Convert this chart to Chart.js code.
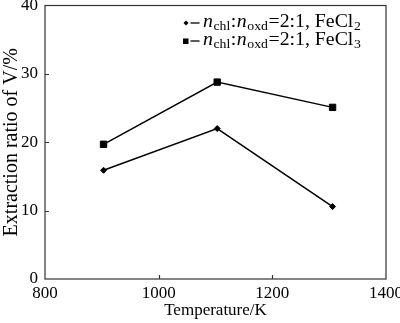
<!DOCTYPE html>
<html>
<head>
<meta charset="utf-8">
<script src="https://cdn.jsdelivr.net/npm/chart.js@4.4.0/dist/chart.umd.min.js"></script>
<style>
  html, body { margin: 0; padding: 0; background: #fff; }
  #wrap { width: 400px; height: 323px; }
</style>
</head>
<body>
<div id="wrap"><canvas id="chart" width="400" height="323"></canvas></div>
<script>
// Extraction ratio of V against roasting temperature
const temperatures = [903, 1103, 1306];
const feCl2Ratio = [15.9, 22.0, 10.6];
const feCl3Ratio = [19.7, 28.8, 25.1];
const xTicks = [800, 1000, 1200, 1400];
const yTicks = [0, 10, 20, 30, 40];
const saltSubscripts = ['2', '3'];

const serif = "'Liberation Serif', 'Times New Roman', serif";

function toPoints(ys) {
    return temperatures.map((t, i) => ({ x: t, y: ys[i] }));
}

// Frame around the plot and short inward ticks
const framePlugin = {
    id: 'frame',
    afterDatasetsDraw(chart) {
        const { ctx, chartArea: a, scales } = chart;
        ctx.save();
        ctx.strokeStyle = '#333';
        ctx.lineWidth = 1.2;
        ctx.strokeRect(a.left, a.top, a.right - a.left, a.bottom - a.top);
        ctx.beginPath();
        xTicks.slice(1, -1).forEach(v => {
            const x = Math.round(scales.x.getPixelForValue(v)) + 0.5;
            ctx.moveTo(x, a.bottom);
            ctx.lineTo(x, a.bottom - 4);
        });
        yTicks.slice(1, -1).forEach(v => {
            const y = Math.round(scales.y.getPixelForValue(v)) + 0.5;
            ctx.moveTo(a.left, y);
            ctx.lineTo(a.left + 4, y);
        });
        ctx.stroke();
        ctx.restore();
    }
};

// Legend with italic n and subscripts
const legendPlugin = {
    id: 'subLegend',
    afterDraw(chart) {
        const { ctx } = chart;
        const main = '18px ' + serif;
        const italic = 'italic 18px ' + serif;
        const sub = '12.5px ' + serif;
        const stretch = 1.1;
        const rows = [
            { y: 27, style: 'diamond' },
            { y: 45, style: 'square' }
        ];
        ctx.save();
        ctx.fillStyle = '#000';
        ctx.strokeStyle = '#000';
        ctx.textBaseline = 'alphabetic';
        rows.forEach((row, i) => {
            const my = row.y - 4;
            ctx.beginPath();
            if (row.style === 'diamond') {
                ctx.moveTo(186, my - 2.5);
                ctx.lineTo(188.5, my);
                ctx.lineTo(186, my + 2.5);
                ctx.lineTo(183.5, my);
                ctx.closePath();
                ctx.fill();
            } else {
                ctx.fillRect(183, my - 2.5, 5.5, 5.5);
            }
            ctx.lineWidth = 1.3;
            ctx.beginPath();
            ctx.moveTo(190.5, my);
            ctx.lineTo(199.5, my);
            ctx.stroke();

            const parts = [
                { t: 'n', f: italic, dy: 0 },
                { t: 'chl', f: sub, dy: 3 },
                { t: ':', f: main, dy: 0 },
                { t: 'n', f: italic, dy: 0 },
                { t: 'oxd', f: sub, dy: 3 },
                { t: '=2:1, FeCl', f: main, dy: 0 },
                { t: saltSubscripts[i], f: sub, dy: 3 }
            ];
            ctx.save();
            ctx.translate(203, 0);
            ctx.scale(stretch, 1);
            let x = 0;
            parts.forEach(p => {
                ctx.font = p.f;
                ctx.fillText(p.t, x, row.y + p.dy);
                x += ctx.measureText(p.t).width + 0.5;
            });
            ctx.restore();
        });
        ctx.restore();
    }
};

const ctx = document.getElementById('chart').getContext('2d');

const chart = new Chart(ctx, {
    type: 'scatter',
    data: {
        datasets: [
            {
                label: 'FeCl2',
                data: toPoints(feCl2Ratio),
                showLine: true,
                borderColor: '#000',
                backgroundColor: '#000',
                borderWidth: 1.5,
                pointStyle: 'rectRot',
                pointRadius: 3,
                pointBorderWidth: 1
            },
            {
                label: 'FeCl3',
                data: toPoints(feCl3Ratio),
                showLine: true,
                borderColor: '#000',
                backgroundColor: '#000',
                borderWidth: 1.5,
                pointStyle: 'rect',
                pointRadius: 4.5,
                pointBorderWidth: 1
            }
        ]
    },
    options: {
        responsive: false,
        animation: false,
        layout: { padding: { top: 5, right: 14, left: 0, bottom: 0 } },
        plugins: {
            legend: { display: false },
            tooltip: { enabled: false }
        },
        scales: {
            x: {
                type: 'linear',
                min: 800,
                max: 1400,
                afterBuildTicks: s => { s.ticks = xTicks.map(v => ({ value: v })); },
                afterFit: s => { s.height = 44; s.paddingLeft = 0; s.paddingRight = 0; },
                grid: { display: false, drawTicks: false },
                border: { display: false },
                ticks: {
                    color: '#000',
                    padding: 4,
                    font: { family: serif, size: 17 },
                    callback: v => String(v)
                },
                title: {
                    display: true,
                    text: 'Temperature/K',
                    color: '#000',
                    padding: { top: 0, bottom: 2 },
                    font: { family: serif, size: 17 }
                }
            },
            y: {
                min: 0,
                max: 40,
                afterBuildTicks: s => { s.ticks = yTicks.map(v => ({ value: v })); },
                afterFit: s => { s.width = 45; s.paddingTop = 0; s.paddingBottom = 0; },
                grid: { display: false, drawTicks: false },
                border: { display: false },
                ticks: {
                    color: '#000',
                    padding: 7,
                    font: { family: serif, size: 17 },
                    callback: v => String(v)
                },
                title: {
                    display: true,
                    text: 'Extraction ratio of V/%',
                    color: '#000',
                    padding: { top: 0, bottom: 0 },
                    font: { family: serif, size: 20 }
                }
            }
        }
    },
    plugins: [framePlugin, legendPlugin]
});
</script>
</body>
</html>
